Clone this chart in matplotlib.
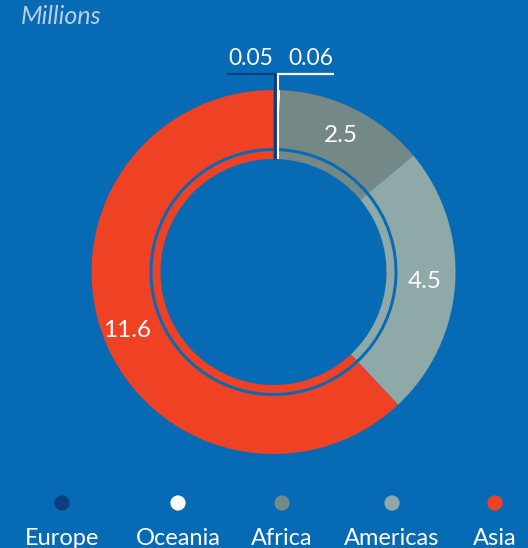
import matplotlib.pyplot as plt
import numpy as np

# data (millions)
regions = ["Europe", "Oceania", "Africa", "Americas", "Asia"]
values = [0.05, 0.06, 2.5, 4.5, 11.6]
labels = ["0.05", "0.06", "2.5", "4.5", "11.6"]
colors = ["#0D3F7E", "#FFFFFF", "#748887", "#8FA9A9", "#EF4123"]

BG = "#066AB4"
W, H = 528, 548
CX, CY = 273.5, H - 272  # donut centre in pixel coords (y up)
R_OUT = 182
R_IN = 124

plt.rcParams['font.family'] = ['Lato', 'DejaVu Sans']

fig = plt.figure(figsize=(W / 100, H / 100), dpi=100, facecolor=BG)
ax = fig.add_axes([0, 0, 1, 1])
ax.set_facecolor(BG)

# main ring
ax.pie(values, colors=colors, startangle=90, counterclock=False,
       radius=R_OUT, center=(CX, CY),
       wedgeprops=dict(width=R_OUT - R_IN, linewidth=0))
# thin inner ring
ax.pie(values, colors=colors, startangle=90, counterclock=False,
       radius=121, center=(CX, CY),
       wedgeprops=dict(width=8, linewidth=0))

ax.set_xlim(0, W)
ax.set_ylim(0, H)
ax.set_aspect('equal')
ax.axis('off')

total = sum(values)
cum = np.cumsum([0] + values)
mids = [90 - 360 * (cum[i] + values[i] / 2) / total for i in range(len(values))]

# big-slice labels inside the ring
for i, r in zip(range(2, len(values)), [152, 152, 158]):
    a = np.deg2rad(mids[i])
    ax.text(CX + r * np.cos(a), CY + r * np.sin(a), labels[i], color="white",
            fontsize=17.5, ha="center", va="center")

# leader lines for the tiny slices (drawn through the ring, then out)
ytop = H - 74
for i, side, lw, run, lab in [(0, -1, 2.2, 48, 24), (1, 1, 1.5, 56, 33)]:
    a = np.deg2rad(mids[i])
    x0 = CX + 150 * np.cos(a)
    y0 = CY + 113 * np.sin(a)
    ax.plot([x0, x0], [y0, ytop], color=colors[i], lw=lw,
            solid_capstyle="butt")
    ax.plot([x0 - side * 1, x0 + side * run], [ytop, ytop],
            color=colors[i], lw=1.6, solid_capstyle="butt")
    ax.text(x0 + side * lab, ytop + 5, labels[i], color="white",
            fontsize=16.5, ha="center", va="bottom")

# subtitle
ax.text(21, H - 16, "Millions", color="#B9CEE2", fontsize=18, style="italic",
        ha="left", va="center")

# legend
leg_x = [62, 178, 282, 392, 495]
ax.scatter(leg_x, [H - 503] * 5, s=120, c=colors, linewidths=0, zorder=3)
for x, name in zip(leg_x, regions):
    ax.text(x, H - 545, name, color="white", fontsize=17, ha="center",
            va="baseline")

fig.savefig("out.png", dpi=100, facecolor=BG)
